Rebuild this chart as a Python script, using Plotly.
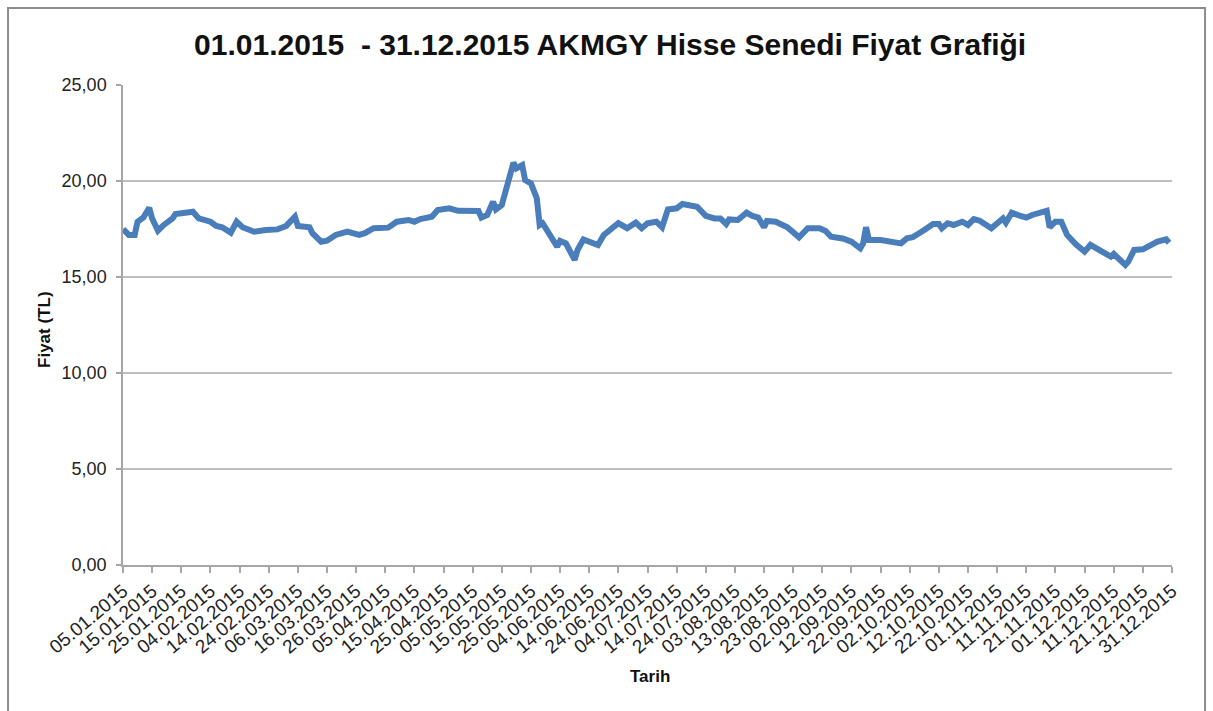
import plotly.graph_objects as go
from datetime import datetime

# ---- data ----
dates = [
    "2015-01-05", "2015-01-07", "2015-01-09", "2015-01-10", "2015-01-12", "2015-01-14", "2015-01-15",
    "2015-01-17", "2015-01-19", "2015-01-22", "2015-01-23", "2015-01-27", "2015-01-29", "2015-01-31",
    "2015-02-04", "2015-02-06", "2015-02-08", "2015-02-11", "2015-02-13", "2015-02-15", "2015-02-19",
    "2015-02-23", "2015-02-27", "2015-03-02", "2015-03-05", "2015-03-06", "2015-03-10", "2015-03-11",
    "2015-03-14", "2015-03-16", "2015-03-19", "2015-03-23", "2015-03-26", "2015-03-27", "2015-03-29",
    "2015-04-01", "2015-04-06", "2015-04-09", "2015-04-13", "2015-04-15", "2015-04-17", "2015-04-21",
    "2015-04-23", "2015-04-27", "2015-04-30", "2015-05-03", "2015-05-07", "2015-05-08", "2015-05-10",
    "2015-05-12", "2015-05-13", "2015-05-15", "2015-05-17", "2015-05-19", "2015-05-20", "2015-05-22",
    "2015-05-23", "2015-05-25", "2015-05-27", "2015-05-28", "2015-05-29", "2015-05-31", "2015-06-01",
    "2015-06-03", "2015-06-04", "2015-06-06", "2015-06-09", "2015-06-10", "2015-06-12", "2015-06-14",
    "2015-06-17", "2015-06-19", "2015-06-24", "2015-06-27", "2015-06-30", "2015-07-02", "2015-07-04",
    "2015-07-07", "2015-07-09", "2015-07-11", "2015-07-14", "2015-07-16", "2015-07-19", "2015-07-21",
    "2015-07-24", "2015-07-27", "2015-07-29", "2015-07-31", "2015-08-01", "2015-08-04", "2015-08-07",
    "2015-08-09", "2015-08-11", "2015-08-13", "2015-08-14", "2015-08-17", "2015-08-21", "2015-08-25",
    "2015-08-28", "2015-09-01", "2015-09-03", "2015-09-05", "2015-09-09", "2015-09-12", "2015-09-15",
    "2015-09-16", "2015-09-17", "2015-09-18", "2015-09-22", "2015-09-25", "2015-09-29", "2015-10-01",
    "2015-10-03", "2015-10-07", "2015-10-10", "2015-10-12", "2015-10-13", "2015-10-15", "2015-10-17",
    "2015-10-20", "2015-10-22", "2015-10-24", "2015-10-26", "2015-10-30", "2015-11-03", "2015-11-04",
    "2015-11-06", "2015-11-09", "2015-11-11", "2015-11-13", "2015-11-18", "2015-11-19", "2015-11-21",
    "2015-11-23", "2015-11-25", "2015-11-28", "2015-12-01", "2015-12-03", "2015-12-06", "2015-12-10",
    "2015-12-11", "2015-12-15", "2015-12-16", "2015-12-18", "2015-12-21", "2015-12-24", "2015-12-26",
    "2015-12-29", "2015-12-30",
]

prices = [
    17.50, 17.19, 17.19, 17.88, 18.10, 18.61, 18.05,
    17.41, 17.71, 18.05, 18.28, 18.40, 18.40, 18.05,
    17.88, 17.66, 17.59, 17.31, 17.88, 17.59, 17.36,
    17.45, 17.48, 17.66, 18.14, 17.66, 17.59, 17.28,
    16.84, 16.89, 17.19, 17.36, 17.24, 17.19, 17.28,
    17.54, 17.57, 17.88, 17.97, 17.88, 18.02, 18.14,
    18.49, 18.58, 18.45, 18.45, 18.44, 18.10, 18.23,
    18.92, 18.52, 18.75, 19.88, 20.95, 20.66, 20.83,
    20.05, 19.88, 19.10, 17.71, 17.80, 17.28, 17.01,
    16.58, 16.88, 16.75, 15.89, 16.41, 16.96, 16.84,
    16.67, 17.19, 17.80, 17.54, 17.83, 17.54, 17.80,
    17.88, 17.59, 18.52, 18.58, 18.80, 18.72, 18.66,
    18.18, 18.05, 18.05, 17.76, 18.00, 17.97, 18.35,
    18.18, 18.10, 17.59, 17.92, 17.88, 17.59, 17.07,
    17.54, 17.54, 17.41, 17.10, 17.01, 16.84, 16.49,
    16.75, 17.59, 16.93, 16.93, 16.84, 16.75, 17.01,
    17.07, 17.45, 17.76, 17.76, 17.54, 17.80, 17.71,
    17.88, 17.71, 18.02, 17.93, 17.54, 18.05, 17.83,
    18.35, 18.18, 18.09, 18.23, 18.45, 17.59, 17.88,
    17.88, 17.19, 16.70, 16.32, 16.67, 16.44, 16.06,
    16.20, 15.63, 15.80, 16.41, 16.44, 16.67, 16.84,
    16.96, 16.79,
]

x_tick_labels = [
    "05.01.2015", "15.01.2015", "25.01.2015", "04.02.2015", "14.02.2015", "24.02.2015",
    "06.03.2015", "16.03.2015", "26.03.2015", "05.04.2015", "15.04.2015", "25.04.2015",
    "05.05.2015", "15.05.2015", "25.05.2015", "04.06.2015", "14.06.2015", "24.06.2015",
    "04.07.2015", "14.07.2015", "24.07.2015", "03.08.2015", "13.08.2015", "23.08.2015",
    "02.09.2015", "12.09.2015", "22.09.2015", "02.10.2015", "12.10.2015", "22.10.2015",
    "01.11.2015", "11.11.2015", "21.11.2015", "01.12.2015", "11.12.2015", "21.12.2015",
    "31.12.2015",
]
y_tick_values = [0, 5, 10, 15, 20, 25]
y_tick_labels = ["0,00", "5,00", "10,00", "15,00", "20,00", "25,00"]

title_text = "01.01.2015\u00a0 - 31.12.2015 AKMGY Hisse Senedi Fiyat Grafiği"
y_title = "Fiyat (TL)"
x_title = "Tarih"

# ---- figure ----
x_tick_vals = [datetime.strptime(s, "%d.%m.%Y").strftime("%Y-%m-%d") for s in x_tick_labels]

FONT = "Arial, 'Liberation Sans', sans-serif"

fig = go.Figure()
fig.add_trace(go.Scatter(
    x=dates, y=prices, mode="lines",
    line=dict(color="#4A7EBB", width=6),
    showlegend=False, hoverinfo="x+y",
))

fig.update_layout(
    width=1213, height=711,
    margin=dict(l=123, r=41, t=85, b=146),
    paper_bgcolor="white", plot_bgcolor="white",
    font=dict(family=FONT, color="#222222"),
    title=dict(text="<b>" + title_text + "</b>", x=0.503, xanchor="center",
               y=0.937, yanchor="middle",
               font=dict(family=FONT, size=30, color="#111111")),
    xaxis=dict(
        type="date", range=[x_tick_vals[0], x_tick_vals[-1]],
        tickmode="array", tickvals=x_tick_vals, ticktext=x_tick_labels,
        tickangle=-40, tickfont=dict(size=19, color="#222222"),
        showgrid=False, showline=True, linecolor="#A6A6A6", linewidth=1.5,
        ticks="outside", ticklen=6, tickcolor="#A6A6A6", tickwidth=1.5,
        zeroline=False,
    ),
    yaxis=dict(
        range=[0, 25], tickmode="array", tickvals=y_tick_values, ticktext=y_tick_labels,
        tickfont=dict(size=18, color="#222222"), ticklabelstandoff=6,
        showgrid=True, gridcolor="#BFBFBF", gridwidth=1.5,
        showline=True, linecolor="#A6A6A6", linewidth=1.5,
        ticks="outside", ticklen=5, tickcolor="#A6A6A6", tickwidth=1.5,
        zeroline=False,
    ),
    annotations=[
        dict(text="<b>" + y_title + "</b>", textangle=-90, xref="paper", yref="paper",
             x=-0.0744, y=0.4917, xanchor="center", yanchor="middle", showarrow=False,
             font=dict(family=FONT, size=17, color="#111111")),
        dict(text="<b>" + x_title + "</b>", xref="paper", yref="paper",
             x=0.5024, y=-0.2333, xanchor="center", yanchor="middle", showarrow=False,
             font=dict(family=FONT, size=17, color="#111111")),
    ],
    shapes=[
        dict(type="rect", xref="paper", yref="paper", x0=-0.1096, x1=1.0315,
             y0=-0.33, y1=1.1604, line=dict(color="#8C8C8C", width=2), layer="below"),
    ],
)

fig.write_html(
    "out.html",
    config={"displayModeBar": False},
    post_script="document.body.style.margin='0';document.body.style.padding='0';",
)
